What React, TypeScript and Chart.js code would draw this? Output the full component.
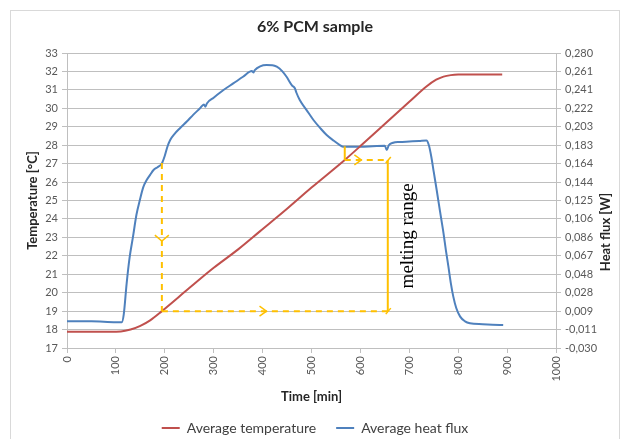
import React, { useEffect, useRef } from 'react';
import { Chart, registerables } from 'chart.js';

Chart.register(...registerables);

// ---- data ----
const TITLE = '6% PCM sample';
const SERIES_TEMP = 'Average temperature';
const SERIES_FLUX = 'Average heat flux';

const TEMP_TIME = [0, 60, 110, 130, 150, 170, 194, 250, 300, 350, 395, 450, 500, 568, 600, 656, 700, 735, 755, 770, 785, 800, 850, 890];
const TEMP_VALUES = [17.88, 17.88, 17.9, 18.0, 18.2, 18.5, 19.0, 20.25, 21.35, 22.35, 23.34, 24.55, 25.7, 27.2, 27.95, 29.3, 30.35, 31.18, 31.55, 31.72, 31.8, 31.83, 31.84, 31.84];

const FLUX_TIME = [0, 50, 100, 112, 116, 122, 128, 135, 142, 149, 156, 163, 170, 177, 185, 194, 200, 205, 211, 220, 231, 245, 258, 272, 280, 283, 286, 300, 320, 340, 360, 378, 381, 384, 395, 408, 420, 429, 440, 449, 460, 466, 469, 476, 490, 504, 518, 531, 545, 558, 565, 600, 625, 650, 654, 658, 667, 680, 700, 720, 735, 740, 745, 750, 756, 763, 770, 775, 780, 785, 790, 796, 804, 814, 824, 850, 870, 892];
const FLUX_VALUES = [-0.002, -0.002, -0.003, -0.003, 0.005, 0.038, 0.065, 0.087, 0.11, 0.1255, 0.139, 0.1466, 0.152, 0.157, 0.16, 0.164, 0.172, 0.181, 0.1886, 0.195, 0.201, 0.208, 0.215, 0.2219, 0.226, 0.2235, 0.227, 0.233, 0.2411, 0.248, 0.255, 0.261, 0.2595, 0.262, 0.266, 0.2674, 0.2672, 0.2656, 0.261, 0.255, 0.246, 0.243, 0.2385, 0.2306, 0.22, 0.2096, 0.201, 0.1938, 0.188, 0.1833, 0.1815, 0.1815, 0.182, 0.1825, 0.178, 0.183, 0.1857, 0.1865, 0.187, 0.1875, 0.188, 0.183, 0.171, 0.155, 0.136, 0.113, 0.0905, 0.072, 0.0555, 0.038, 0.024, 0.012, 0.003, -0.002, -0.004, -0.005, -0.0055, -0.0058];

const X_TICKS = [0, 100, 200, 300, 400, 500, 600, 700, 800, 900, 1000];
const X_TICK_LABELS = ['0', '100', '200', '300', '400', '500', '600', '700', '800', '900', '1000'];
const LEFT_MIN = 17;
const LEFT_MAX = 33;
const RIGHT_TICK_LABELS = ['-0,030', '-0,011', '0,009', '0,028', '0,048', '0,067', '0,086', '0,106', '0,125', '0,144', '0,164', '0,183', '0,203', '0,222', '0,241', '0,261', '0,280'];
const RIGHT_MIN = -0.03;
const RIGHT_MAX = 0.28;

// annotation (time [min], temperature [°C])
const ONSET_TIME = 194;
const ONSET_TOP_TEMP = 27.04;
const BASE_TEMP = 19.0;
const END_TIME = 656;
const PEAK_TIME = 568;
const END_TEMP = 27.2;
const FLAT_TEMP = 27.94;
const ARROWS_DOWN = [[194, 22.8]];
const ARROWS_RIGHT = [[408, 19.0], [602, 27.2]];
const MELT_LABEL = 'melting range';
const MELT_LABEL_POS = [697, 23.08];

const annotationPlugin = {
  id: 'pcmAnnotations',
  beforeDraw(chart: any) {
    const ctx = chart.ctx;
    ctx.save();
    ctx.fillStyle = '#ffffff';
    ctx.fillRect(0, 0, chart.width, chart.height);
    ctx.strokeStyle = '#D9D9D9';
    ctx.lineWidth = 1;
    ctx.strokeRect(10.5, 10.5, 609, 460);
    ctx.restore();
  },
  afterDatasetsDraw(chart: any) {
    const ctx = chart.ctx;
    const xs = chart.scales.x;
    const ys = chart.scales.y;
    const px = (t: number) => xs.getPixelForValue(t);
    const py = (v: number) => ys.getPixelForValue(v);
    const line = (x1: number, y1: number, x2: number, y2: number) => {
      ctx.beginPath();
      ctx.moveTo(x1, y1);
      ctx.lineTo(x2, y2);
      ctx.stroke();
    };
    ctx.save();
    ctx.strokeStyle = '#FFC000';
    ctx.lineWidth = 2;
    ctx.setLineDash([6, 5]);
    line(px(ONSET_TIME), py(ONSET_TOP_TEMP), px(ONSET_TIME), py(BASE_TEMP));
    line(px(ONSET_TIME), py(BASE_TEMP), px(END_TIME), py(BASE_TEMP));
    line(px(PEAK_TIME), py(END_TEMP), px(END_TIME), py(END_TEMP));
    ctx.setLineDash([]);
    line(px(END_TIME), py(BASE_TEMP), px(END_TIME), py(END_TEMP));
    line(px(PEAK_TIME), py(FLAT_TEMP), px(PEAK_TIME), py(END_TEMP));
    ctx.lineWidth = 1.5;
    line(px(END_TIME) - 2, py(END_TEMP) + 3, px(END_TIME) + 3, py(END_TEMP) - 3);
    line(px(END_TIME) - 2, py(BASE_TEMP) + 3, px(END_TIME) + 3, py(BASE_TEMP) - 3);
    ARROWS_DOWN.forEach(([t, v]) => {
      const cx = px(t), cy = py(v);
      ctx.beginPath();
      ctx.moveTo(cx - 7, cy - 6);
      ctx.lineTo(cx, cy);
      ctx.lineTo(cx + 7, cy - 6);
      ctx.stroke();
    });
    ARROWS_RIGHT.forEach(([t, v]) => {
      const cx = px(t), cy = py(v);
      ctx.beginPath();
      ctx.moveTo(cx - 7, cy - 5);
      ctx.lineTo(cx, cy);
      ctx.lineTo(cx - 7, cy + 5);
      ctx.stroke();
    });
    ctx.translate(px(MELT_LABEL_POS[0]), py(MELT_LABEL_POS[1]));
    ctx.rotate(-Math.PI / 2);
    ctx.fillStyle = '#000000';
    ctx.font = '19px "Liberation Serif"';
    ctx.textAlign = 'center';
    ctx.textBaseline = 'middle';
    ctx.fillText(MELT_LABEL, 0, 0);
    ctx.restore();
  },
  afterDraw(chart: any) {
    const ctx = chart.ctx;
    ctx.save();
    ctx.translate(606, 232);
    ctx.rotate(-Math.PI / 2);
    ctx.fillStyle = '#262626';
    ctx.font = 'bold 13px Lato';
    ctx.textAlign = 'center';
    ctx.textBaseline = 'middle';
    ctx.fillText('Heat flux [W]', 0, 0);
    ctx.restore();
  },
};

export default function App() {
  const ref = useRef<HTMLCanvasElement | null>(null);

  useEffect(() => {
    if (!ref.current) return;
    Chart.defaults.font.family = 'Lato';
    Chart.defaults.color = '#595959';
    const chart = new Chart(ref.current, {
      type: 'line',
      data: {
        datasets: [
          {
            label: SERIES_TEMP,
            data: TEMP_TIME.map((t, i) => ({ x: t, y: TEMP_VALUES[i] })),
            yAxisID: 'y',
            borderColor: '#C0504D',
            backgroundColor: '#C0504D',
            borderWidth: 2,
            pointRadius: 0,
            cubicInterpolationMode: 'monotone',
          },
          {
            label: SERIES_FLUX,
            data: FLUX_TIME.map((t, i) => ({ x: t, y: FLUX_VALUES[i] })),
            yAxisID: 'y1',
            borderColor: '#4F81BD',
            backgroundColor: '#4F81BD',
            borderWidth: 2,
            pointRadius: 0,
            cubicInterpolationMode: 'monotone',
          },
        ],
      },
      options: {
        responsive: false,
        animation: false,
        layout: { padding: { left: 0, right: 0, top: 0, bottom: 0 } },
        plugins: {
          title: {
            display: true,
            text: TITLE,
            color: '#262626',
            font: { size: 16, weight: 'bold' },
            padding: { top: 17, bottom: 16.8 },
          },
          legend: {
            position: 'bottom',
            labels: {
              boxWidth: 18,
              boxHeight: 2,
              padding: 20,
              color: '#404040',
              font: { size: 14 },
              generateLabels: (c: any) =>
                Chart.defaults.plugins.legend.labels.generateLabels(c).map((l: any) => ({ ...l, lineWidth: 0 })),
            },
          },
          tooltip: { enabled: false },
        },
        scales: {
          x: {
            type: 'linear',
            min: 0,
            max: 1000,
            afterBuildTicks: (s: any) => {
              s.ticks = X_TICKS.map((v) => ({ value: v }));
            },
            afterFit: (s: any) => {
              const lh = s.chart.legend ? s.chart.legend.height : 0;
              s.height = s.chart.height - 348 - lh;
            },
            ticks: {
              minRotation: 90,
              maxRotation: 90,
              font: { size: 11 },
              color: '#595959',
              padding: 3,
              callback: (_v: any, i: number) => X_TICK_LABELS[i],
            },
            grid: { drawOnChartArea: false, color: '#BFBFBF', tickLength: 5 },
            border: { color: '#BFBFBF' },
            title: {
              display: true,
              text: 'Time [min]',
              color: '#262626',
              font: { size: 13, weight: 'bold' },
              padding: { top: 0, bottom: -4 },
            },
          },
          y: {
            position: 'left',
            min: LEFT_MIN,
            max: LEFT_MAX,
            ticks: { stepSize: 1, font: { size: 11 }, color: '#595959', padding: 4 },
            grid: { color: '#BFBFBF', tickLength: 5 },
            border: { color: '#BFBFBF' },
            afterFit: (s: any) => {
              s.width = 67;
            },
            title: {
              display: true,
              text: 'Temperature [°C]',
              color: '#262626',
              font: { size: 13, weight: 'bold' },
              padding: { top: 25, bottom: 0 },
            },
          },
          y1: {
            position: 'right',
            min: RIGHT_MIN,
            max: RIGHT_MAX,
            afterBuildTicks: (s: any) => {
              s.ticks = RIGHT_TICK_LABELS.map((_, i) => ({
                value: RIGHT_MIN + (i * (RIGHT_MAX - RIGHT_MIN)) / (RIGHT_TICK_LABELS.length - 1),
              }));
            },
            afterFit: (s: any) => {
              s.width = 74;
            },
            ticks: {
              font: { size: 11 },
              color: '#595959',
              padding: 4,
              callback: (_v: any, i: number) => RIGHT_TICK_LABELS[i],
            },
            grid: { drawOnChartArea: false, color: '#BFBFBF', tickLength: 5 },
            border: { color: '#BFBFBF' },
          },
        },
      },
      plugins: [annotationPlugin],
    } as any);
    return () => chart.destroy();
  }, []);

  return (
    <div style={{ position: 'fixed', left: 0, top: 0, width: 630, height: 439, overflow: 'hidden', background: '#fff' }}>
      <canvas ref={ref} width={630} height={445} style={{ display: 'block', width: 630, height: 445 }} />
    </div>
  );
}
